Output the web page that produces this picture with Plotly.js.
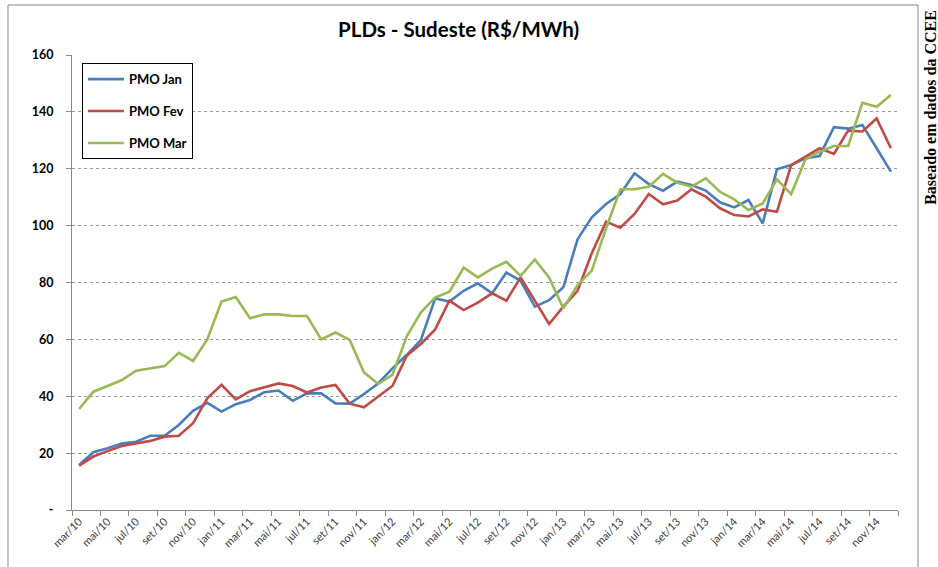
<!DOCTYPE html>
<html>
<head>
<meta charset="utf-8">
<script src="https://cdn.plot.ly/plotly-3.0.1.min.js"></script>
<style>
  html, body { margin: 0; padding: 0; background: #fff; }
  #chart { width: 938px; height: 567px; }
</style>
</head>
<body>
<div id="chart"></div>
<script>
// PLDs Sudeste - meses de mar/2010 a dez/2014
var meses = [
  'mar/10','abr/10','mai/10','jun/10','jul/10','ago/10','set/10','out/10','nov/10','dez/10',
  'jan/11','fev/11','mar/11','abr/11','mai/11','jun/11','jul/11','ago/11','set/11','out/11','nov/11','dez/11',
  'jan/12','fev/12','mar/12','abr/12','mai/12','jun/12','jul/12','ago/12','set/12','out/12','nov/12','dez/12',
  'jan/13','fev/13','mar/13','abr/13','mai/13','jun/13','jul/13','ago/13','set/13','out/13','nov/13','dez/13',
  'jan/14','fev/14','mar/14','abr/14','mai/14','jun/14','jul/14','ago/14','set/14','out/14','nov/14','dez/14'
];

var pmoJan = [
  15.8, 20.3, 21.7, 23.4, 24.0, 26.1, 26.1, 29.9, 34.9, 37.7,
  34.6, 37.2, 38.7, 41.4, 42.0, 38.4, 41.0, 41.0, 37.5, 37.4, 40.8, 44.5,
  49.8, 54.5, 59.8, 74.4, 73.3, 77.1, 79.7, 76.2, 83.5, 80.6, 71.5, 73.8,
  78.3, 95.2, 102.9, 107.6, 111.1, 118.4, 114.6, 112.3, 115.5, 114.3, 112.3, 108.2,
  106.4, 109.0, 100.8, 119.8, 121.3, 123.7, 124.5, 134.6, 134.1, 135.4, 127.2, 119.0
];

var pmoFev = [
  15.6, 18.8, 20.7, 22.5, 23.4, 24.3, 25.8, 26.1, 30.5, 39.3,
  44.0, 38.9, 41.8, 43.1, 44.5, 43.6, 41.3, 43.1, 44.0, 37.4, 36.1, 39.9,
  43.6, 54.2, 58.4, 63.5, 73.6, 70.3, 72.9, 76.2, 73.6, 81.8, 73.8, 65.4,
  71.5, 77.1, 90.3, 101.4, 99.3, 104.1, 111.1, 107.5, 108.8, 112.8, 110.2, 106.1,
  103.7, 103.2, 105.7, 104.9, 121.3, 124.3, 127.2, 125.2, 133.4, 133.1, 137.7, 127.2
];

var pmoMar = [
  35.5, 41.6, 43.6, 45.7, 49.0, 49.9, 50.6, 55.3, 52.4, 60.0,
  73.3, 74.9, 67.4, 68.8, 68.8, 68.2, 68.2, 60.0, 62.4, 59.8, 48.4, 44.3,
  47.5, 61.0, 69.5, 74.7, 76.8, 85.2, 81.8, 84.9, 87.3, 82.3, 88.1, 81.8,
  70.9, 79.1, 84.2, 99.1, 112.8, 112.8, 113.7, 118.2, 115.1, 113.7, 116.6, 111.9,
  109.2, 105.5, 107.8, 116.3, 111.1, 123.3, 126.0, 128.0, 128.0, 143.2, 141.8, 145.9
];

var yTicks = [0, 20, 40, 60, 80, 100, 120, 140, 160];
var yTickText = ['-', '20', '40', '60', '80', '100', '120', '140', '160'];

// posicoes numericas das categorias
var idx = meses.map(function (m, i) { return i; });
var labelIdx = idx.filter(function (i) { return i % 2 === 0; });
var labelTxt = labelIdx.map(function (i) { return meses[i]; });
// marcas do eixo ficam entre categorias, a cada 2 meses
var tickBounds = [];
for (var b = 0; b <= meses.length; b += 2) tickBounds.push(b - 0.5);

function serie(nome, valores, cor) {
  return {
    x: idx,
    y: valores,
    name: nome,
    type: 'scatter',
    mode: 'lines',
    legendgroup: nome,
    line: { color: cor, width: 2.6 },
    hoverinfo: 'skip'
  };
}

var data = [
  serie('PMO Jan', pmoJan, '#4A7EBB'),
  serie('PMO Fev', pmoFev, '#BE4B48'),
  serie('PMO Mar', pmoMar, '#98B954')
];

var layout = {
  width: 938,
  height: 567,
  margin: { l: 72, r: 40, t: 55, b: 57 },
  paper_bgcolor: '#fff',
  plot_bgcolor: '#fff',
  font: { family: 'Lato, "Open Sans", sans-serif', color: '#000' },
  showlegend: true,
  legend: {
    x: 0.012, y: 0.982, xanchor: 'left', yanchor: 'top',
    bordercolor: '#000', borderwidth: 1, bgcolor: '#fff',
    font: { size: 13, family: 'Lato, sans-serif', weight: 'bold', color: '#000' },
    traceorder: 'grouped',
    tracegroupgap: 12,
    itemwidth: 36
  },
  xaxis: {
    range: [-0.5, meses.length - 0.5],
    tickmode: 'array',
    tickvals: labelIdx,
    ticktext: labelTxt,
    tickangle: -45,
    ticks: '',
    tickfont: { size: 11, color: '#404040', family: 'Lato, sans-serif' },
    showgrid: false,
    zeroline: false,
    showline: true,
    linecolor: '#888',
    linewidth: 1,
    minor: {
      tickmode: 'array',
      tickvals: tickBounds,
      ticks: 'outside',
      ticklen: 5,
      tickcolor: '#888',
      showgrid: false
    }
  },
  yaxis: {
    range: [0, 160],
    tickmode: 'array',
    tickvals: yTicks,
    ticktext: yTickText,
    ticks: 'outside',
    ticklen: 5,
    tickcolor: '#888',
    ticklabelstandoff: 10,
    tickfont: { size: 12.5, weight: 'bold', color: '#000', family: 'Lato, sans-serif' },
    showgrid: true,
    gridcolor: '#999',
    griddash: '3px,3px',
    gridwidth: 1,
    zeroline: false,
    showline: true,
    linecolor: '#888',
    linewidth: 1
  },
  title: {
    text: 'PLDs - Sudeste (R$/MWh)',
    x: 0.468, xref: 'paper', xanchor: 'center',
    y: 0.947, yref: 'container', yanchor: 'middle',
    font: { size: 20.5, weight: 'bold', family: 'Lato, sans-serif', color: '#000' }
  },
  annotations: [{
    text: 'Baseado em dados da CCEE',
    xref: 'paper', yref: 'paper',
    x: 1.04, y: 0.884,
    xanchor: 'center', yanchor: 'middle',
    textangle: -90,
    showarrow: false,
    borderpad: 0,
    font: { size: 16, weight: 'bold', family: '"Liberation Serif", "DejaVu Serif", serif', color: '#000' }
  }],
  shapes: [{
    type: 'rect', xref: 'paper', yref: 'paper',
    x0: -0.0775, x1: 1.0242, y0: -0.14, y1: 1.1099,
    line: { color: '#888', width: 1 },
    layer: 'below'
  }]
};

Plotly.newPlot('chart', data, layout, { staticPlot: true });
</script>
</body>
</html>
